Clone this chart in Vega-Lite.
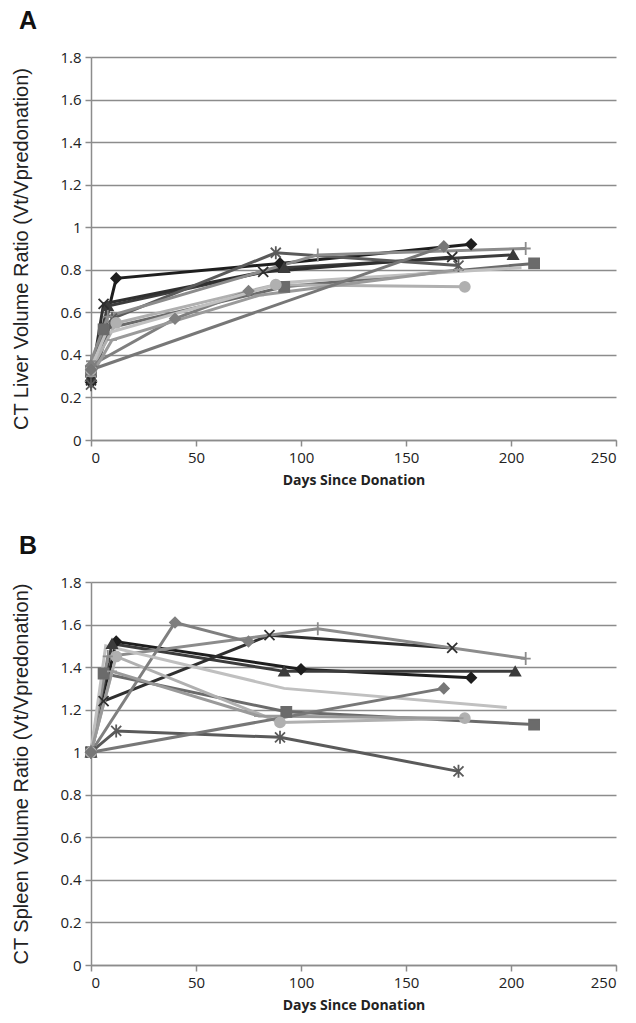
{
  "$schema": "https://vega.github.io/schema/vega-lite/v6.json",
  "background": "white",
  "padding": {"left": 11, "top": 9, "right": 5, "bottom": 5},
  "spacing": 47,
  "datasets": {
    "liver": [
      {"id": "S1", "day": 0, "ratio": 0.27}, {"id": "S1", "day": 12, "ratio": 0.76}, {"id": "S1", "day": 90, "ratio": 0.83}, {"id": "S1", "day": 181, "ratio": 0.92},
      {"id": "S2", "day": 0, "ratio": 0.30}, {"id": "S2", "day": 8, "ratio": 0.63}, {"id": "S2", "day": 92, "ratio": 0.81}, {"id": "S2", "day": 201, "ratio": 0.87},
      {"id": "S3", "day": 0, "ratio": 0.32}, {"id": "S3", "day": 6, "ratio": 0.52}, {"id": "S3", "day": 92, "ratio": 0.72}, {"id": "S3", "day": 211, "ratio": 0.83},
      {"id": "S4", "day": 0, "ratio": 0.28}, {"id": "S4", "day": 6, "ratio": 0.64}, {"id": "S4", "day": 82, "ratio": 0.79}, {"id": "S4", "day": 172, "ratio": 0.86},
      {"id": "S5", "day": 0, "ratio": 0.26}, {"id": "S5", "day": 10, "ratio": 0.57}, {"id": "S5", "day": 88, "ratio": 0.88}, {"id": "S5", "day": 175, "ratio": 0.82},
      {"id": "S6", "day": 0, "ratio": 0.33}, {"id": "S6", "day": 12, "ratio": 0.55}, {"id": "S6", "day": 88, "ratio": 0.73}, {"id": "S6", "day": 178, "ratio": 0.72},
      {"id": "S7", "day": 0, "ratio": 0.37}, {"id": "S7", "day": 8, "ratio": 0.58}, {"id": "S7", "day": 108, "ratio": 0.87}, {"id": "S7", "day": 207, "ratio": 0.90},
      {"id": "S8", "day": 0, "ratio": 0.35}, {"id": "S8", "day": 40, "ratio": 0.57}, {"id": "S8", "day": 75, "ratio": 0.70},
      {"id": "S9", "day": 0, "ratio": 0.34}, {"id": "S9", "day": 7, "ratio": 0.50}, {"id": "S9", "day": 92, "ratio": 0.74}, {"id": "S9", "day": 205, "ratio": 0.81},
      {"id": "S10", "day": 0, "ratio": 0.30}, {"id": "S10", "day": 10, "ratio": 0.47}, {"id": "S10", "day": 80, "ratio": 0.68}, {"id": "S10", "day": 175, "ratio": 0.80},
      {"id": "S11", "day": 0, "ratio": 0.33}, {"id": "S11", "day": 168, "ratio": 0.91}
    ],
    "spleen": [
      {"id": "S1", "day": 0, "ratio": 1.0}, {"id": "S1", "day": 12, "ratio": 1.52}, {"id": "S1", "day": 100, "ratio": 1.39}, {"id": "S1", "day": 181, "ratio": 1.35},
      {"id": "S2", "day": 0, "ratio": 1.0}, {"id": "S2", "day": 10, "ratio": 1.51}, {"id": "S2", "day": 92, "ratio": 1.38}, {"id": "S2", "day": 202, "ratio": 1.38},
      {"id": "S3", "day": 0, "ratio": 1.0}, {"id": "S3", "day": 6, "ratio": 1.37}, {"id": "S3", "day": 93, "ratio": 1.19}, {"id": "S3", "day": 211, "ratio": 1.13},
      {"id": "S4", "day": 0, "ratio": 1.0}, {"id": "S4", "day": 6, "ratio": 1.24}, {"id": "S4", "day": 85, "ratio": 1.55}, {"id": "S4", "day": 172, "ratio": 1.49},
      {"id": "S5", "day": 0, "ratio": 1.0}, {"id": "S5", "day": 12, "ratio": 1.10}, {"id": "S5", "day": 90, "ratio": 1.07}, {"id": "S5", "day": 175, "ratio": 0.91},
      {"id": "S6", "day": 0, "ratio": 1.0}, {"id": "S6", "day": 12, "ratio": 1.45}, {"id": "S6", "day": 90, "ratio": 1.14}, {"id": "S6", "day": 178, "ratio": 1.16},
      {"id": "S7", "day": 0, "ratio": 1.0}, {"id": "S7", "day": 8, "ratio": 1.45}, {"id": "S7", "day": 108, "ratio": 1.58}, {"id": "S7", "day": 207, "ratio": 1.44},
      {"id": "S8", "day": 0, "ratio": 1.0}, {"id": "S8", "day": 40, "ratio": 1.61}, {"id": "S8", "day": 75, "ratio": 1.52},
      {"id": "S9", "day": 0, "ratio": 1.0}, {"id": "S9", "day": 7, "ratio": 1.50}, {"id": "S9", "day": 92, "ratio": 1.30}, {"id": "S9", "day": 198, "ratio": 1.21},
      {"id": "S10", "day": 0, "ratio": 1.0}, {"id": "S10", "day": 10, "ratio": 1.38}, {"id": "S10", "day": 80, "ratio": 1.17}, {"id": "S10", "day": 175, "ratio": 1.16},
      {"id": "S11", "day": 0, "ratio": 1.0}, {"id": "S11", "day": 168, "ratio": 1.30}
    ]
  },
  "config": {
    "view": {"stroke": null},
    "axis": {
      "domainColor": "#8c8c8c", "domainWidth": 1.5,
      "tickColor": "#8c8c8c", "tickWidth": 1.5, "tickSize": 6,
      "gridColor": "#8c8c8c", "gridWidth": 1.5, "gridOpacity": 1,
      "labelFont": "Open Sans", "labelFontSize": 15, "labelColor": "#222222",
      "titleColor": "#222222"
    },
    "title": {"font": "Liberation Sans", "fontSize": 25, "fontWeight": "bold", "color": "#111111"}
  },
  "vconcat": [
    {
      "data": {"name": "liver"},
      "title": {"text": "A", "anchor": "start", "frame": "group", "dx": -72, "offset": 16},
      "width": 525, "height": 383,
      "layer": [
        {
          "mark": {"type": "line", "strokeWidth": 3},
          "encoding": {
            "x": {"field": "day", "type": "quantitative", "scale": {"domain": [0, 250], "nice": false},
                  "axis": {"values": [0, 50, 100, 150, 200, 250], "grid": false, "title": "Days Since Donation", "titleFont": "Open Sans", "titleFontSize": 14, "titleFontWeight": "bold", "titlePadding": 8, "labelPadding": 4}},
            "y": {"field": "ratio", "type": "quantitative", "scale": {"domain": [0, 1.8], "nice": false},
                  "axis": {"values": [0, 0.2, 0.4, 0.6, 0.8, 1, 1.2, 1.4, 1.6, 1.8], "format": "~g", "grid": true, "title": "CT Liver Volume Ratio (Vt/Vpredonation)", "titleFont": "Liberation Sans", "titleFontSize": 20, "titleFontWeight": "normal", "titlePadding": 28, "labelPadding": 4}},
            "color": {"field": "id", "type": "nominal", "legend": null,
                      "scale": {"domain": ["S1","S2","S3","S4","S5","S6","S7","S8","S9","S10","S11"], "range": ["#1e1e1e","#3c3c3c","#6b6b6b","#2f2f2f","#5a5a5a","#b0b0b0","#8c8c8c","#7f7f7f","#c0c0c0","#9a9a9a","#777777"]}},
            "order": {"field": "day", "type": "quantitative"}
          }
        },
        {
          "transform": [{"filter": "datum.id != 'S9'"}],
          "mark": {"type": "point", "filled": true, "size": 100, "strokeWidth": 1.8, "opacity": 1},
          "encoding": {
            "x": {"field": "day", "type": "quantitative"},
            "y": {"field": "ratio", "type": "quantitative"},
            "fill": {"field": "id", "type": "nominal", "legend": null,
                     "scale": {"domain": ["S1","S2","S3","S4","S5","S6","S7","S8","S9","S10","S11"], "range": ["#1e1e1e","#3c3c3c","#6b6b6b","#2f2f2f","#5a5a5a","#b0b0b0","#8c8c8c","#7f7f7f","#c0c0c0","#9a9a9a","#777777"]}},
            "stroke": {"field": "id", "type": "nominal", "legend": null,
                       "scale": {"domain": ["S1","S2","S3","S4","S5","S6","S7","S8","S9","S10","S11"], "range": ["#1e1e1e","#3c3c3c","#6b6b6b","#2f2f2f","#5a5a5a","#b0b0b0","#8c8c8c","#7f7f7f","#c0c0c0","#9a9a9a","#777777"]}},
            "shape": {"field": "id", "type": "nominal", "legend": null,
                      "scale": {"domain": ["S1","S2","S3","S4","S5","S6","S7","S8","S9","S10","S11"], "range": ["diamond","triangle-up","square","M-1,-1L1,1M-1,1L1,-1","M-1,-1L1,1M-1,1L1,-1M0,-1.3L0,1.3","circle","M-1,0L1,0M0,-1.3L0,1.3","diamond","circle","M-1,0L1,0","diamond"]}}
          }
        }
      ]
    },
    {
      "data": {"name": "spleen"},
      "title": {"text": "B", "anchor": "start", "frame": "group", "dx": -72, "offset": 16},
      "width": 525, "height": 383,
      "layer": [
        {
          "mark": {"type": "line", "strokeWidth": 3},
          "encoding": {
            "x": {"field": "day", "type": "quantitative", "scale": {"domain": [0, 250], "nice": false},
                  "axis": {"values": [0, 50, 100, 150, 200, 250], "grid": false, "title": "Days Since Donation", "titleFont": "Open Sans", "titleFontSize": 14, "titleFontWeight": "bold", "titlePadding": 8, "labelPadding": 4}},
            "y": {"field": "ratio", "type": "quantitative", "scale": {"domain": [0, 1.8], "nice": false},
                  "axis": {"values": [0, 0.2, 0.4, 0.6, 0.8, 1, 1.2, 1.4, 1.6, 1.8], "format": "~g", "grid": true, "title": "CT Spleen Volume Ratio (Vt/Vpredonation)", "titleFont": "Liberation Sans", "titleFontSize": 20, "titleFontWeight": "normal", "titlePadding": 28, "labelPadding": 4}},
            "color": {"field": "id", "type": "nominal", "legend": null,
                      "scale": {"domain": ["S1","S2","S3","S4","S5","S6","S7","S8","S9","S10","S11"], "range": ["#1e1e1e","#3c3c3c","#6b6b6b","#2f2f2f","#5a5a5a","#b0b0b0","#8c8c8c","#7f7f7f","#c0c0c0","#9a9a9a","#777777"]}},
            "order": {"field": "day", "type": "quantitative"}
          }
        },
        {
          "transform": [{"filter": "datum.id != 'S9'"}],
          "mark": {"type": "point", "filled": true, "size": 100, "strokeWidth": 1.8, "opacity": 1},
          "encoding": {
            "x": {"field": "day", "type": "quantitative"},
            "y": {"field": "ratio", "type": "quantitative"},
            "fill": {"field": "id", "type": "nominal", "legend": null,
                     "scale": {"domain": ["S1","S2","S3","S4","S5","S6","S7","S8","S9","S10","S11"], "range": ["#1e1e1e","#3c3c3c","#6b6b6b","#2f2f2f","#5a5a5a","#b0b0b0","#8c8c8c","#7f7f7f","#c0c0c0","#9a9a9a","#777777"]}},
            "stroke": {"field": "id", "type": "nominal", "legend": null,
                       "scale": {"domain": ["S1","S2","S3","S4","S5","S6","S7","S8","S9","S10","S11"], "range": ["#1e1e1e","#3c3c3c","#6b6b6b","#2f2f2f","#5a5a5a","#b0b0b0","#8c8c8c","#7f7f7f","#c0c0c0","#9a9a9a","#777777"]}},
            "shape": {"field": "id", "type": "nominal", "legend": null,
                      "scale": {"domain": ["S1","S2","S3","S4","S5","S6","S7","S8","S9","S10","S11"], "range": ["diamond","triangle-up","square","M-1,-1L1,1M-1,1L1,-1","M-1,-1L1,1M-1,1L1,-1M0,-1.3L0,1.3","circle","M-1,0L1,0M0,-1.3L0,1.3","diamond","circle","M-1,0L1,0","diamond"]}}
          }
        }
      ]
    }
  ]
}
